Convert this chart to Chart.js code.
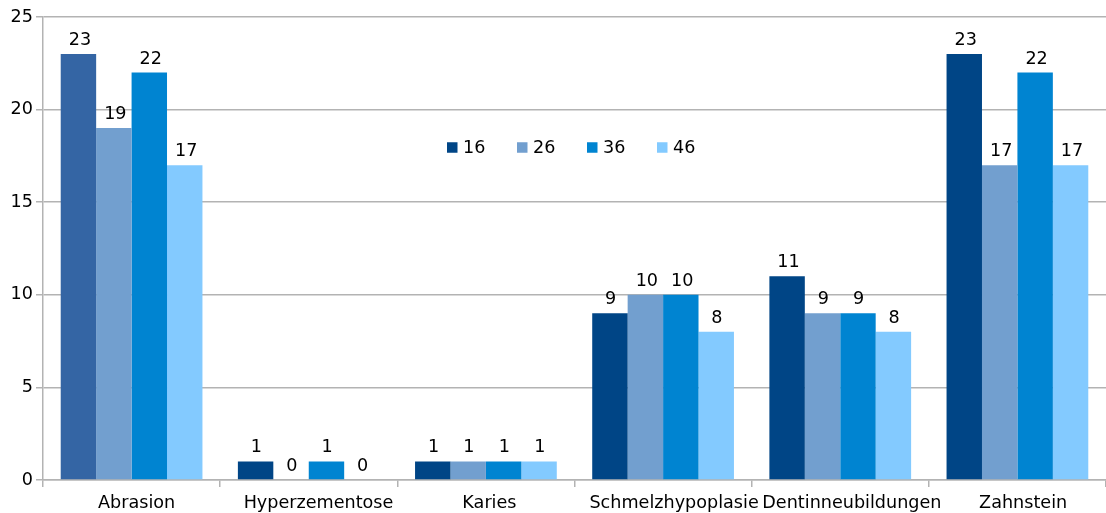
<!DOCTYPE html>
<html>
<head>
<meta charset="utf-8">
<script src="https://cdn.jsdelivr.net/npm/chart.js@4/dist/chart.umd.min.js"></script>
<style>
  html, body { margin: 0; padding: 0; background: #fff; }
  #wrap { width: 1106px; height: 513px; }
</style>
</head>
<body>
<div id="wrap"><canvas id="chart"></canvas></div>
<script>
// data
var categories = ['Abrasion', 'Hyperzementose', 'Karies', 'Schmelzhypoplasie', 'Dentinneubildungen', 'Zahnstein'];
var seriesNames = ['16', '26', '36', '46'];
var values16 = [23, 1, 1, 9, 11, 23];
var values26 = [19, 0, 1, 10, 9, 17];
var values36 = [22, 1, 1, 10, 9, 22];
var values46 = [17, 0, 1, 8, 8, 17];
var yTicks = [0, 5, 10, 15, 20, 25];

var colors = ['#004586', '#729fcf', '#0084d1', '#83caff'];
var FONT = 'DejaVu Sans';
var FONT_SIZE = 17.6;
// the original lays text out a bit narrower than it renders, so labels sit slightly right of centre
var LEFT_SHARE = 0.435;

// first bar of the first group is drawn lighter in the original
var colors16 = values16.map(function (v, i) { return i === 0 ? '#3465a4' : colors[0]; });

function drawLabel(ctx, text, cx, y) {
    var w = ctx.measureText(text).width;
    ctx.fillText(text, cx - w * LEFT_SHARE, y);
}

// value labels above each bar + category labels under the axis
var textLayer = {
    id: 'textLayer',
    afterDatasetsDraw: function (chart) {
        var ctx = chart.ctx;
        ctx.save();
        ctx.font = FONT_SIZE + 'px "' + FONT + '"';
        ctx.fillStyle = '#000';
        ctx.textAlign = 'left';
        ctx.textBaseline = 'alphabetic';
        chart.data.datasets.forEach(function (ds, di) {
            chart.getDatasetMeta(di).data.forEach(function (bar, i) {
                drawLabel(ctx, String(ds.data[i]), bar.x, bar.y - 9);
            });
        });
        var xs = chart.scales.x;
        chart.data.labels.forEach(function (lab, i) {
            drawLabel(ctx, lab, xs.getPixelForTick(i), 508);
        });
        ctx.restore();
    }
};

// legend drawn inside the plot
var innerLegend = {
    id: 'innerLegend',
    afterDraw: function (chart) {
        var ctx = chart.ctx;
        var startX = 447, y = 147.5, step = 70, box = 10.5;
        ctx.save();
        ctx.font = FONT_SIZE + 'px "' + FONT + '"';
        ctx.textBaseline = 'middle';
        ctx.textAlign = 'left';
        chart.data.datasets.forEach(function (ds, di) {
            var x = startX + di * step;
            ctx.fillStyle = colors[di];
            ctx.fillRect(x, y - box / 2, box, box);
            ctx.fillStyle = '#000';
            ctx.fillText(ds.label, x + 16, y + 1);
        });
        ctx.restore();
    }
};

var chart = new Chart(document.getElementById('chart').getContext('2d'), {
    type: 'bar',
    data: {
        labels: categories,
        datasets: [
            { label: seriesNames[0], data: values16, backgroundColor: colors16 },
            { label: seriesNames[1], data: values26, backgroundColor: colors[1] },
            { label: seriesNames[2], data: values36, backgroundColor: colors[2] },
            { label: seriesNames[3], data: values46, backgroundColor: colors[3] }
        ]
    },
    options: {
        responsive: true,
        maintainAspectRatio: false,
        animation: false,
        layout: { padding: { top: 17, right: 0, bottom: 0, left: 0 } },
        datasets: { bar: { categoryPercentage: 0.8, barPercentage: 1.0, borderWidth: 0 } },
        plugins: {
            legend: { display: false },
            tooltip: { enabled: false }
        },
        scales: {
            x: {
                grid: {
                    offset: true,
                    drawOnChartArea: false,
                    color: function (c) { return c.index === categories.length ? 'rgba(0,0,0,0)' : '#b3b3b3'; },
                    lineWidth: 1.5,
                    tickLength: 7
                },
                border: { color: '#b3b3b3', width: 1.5 },
                ticks: { display: false, autoSkip: false },
                afterFit: function (scale) { scale.height = 33; }
            },
            y: {
                min: 0,
                max: 25,
                afterBuildTicks: function (scale) {
                    scale.ticks = yTicks.map(function (v) { return { value: v }; });
                },
                grid: { color: '#b3b3b3', lineWidth: 1.5, tickLength: 7 },
                border: { color: '#b3b3b3', width: 1.5 },
                ticks: { color: '#000', font: { family: FONT, size: FONT_SIZE }, padding: 3 },
                afterFit: function (scale) { scale.width = 43; }
            }
        }
    },
    plugins: [textLayer, innerLegend]
});
</script>
</body>
</html>
